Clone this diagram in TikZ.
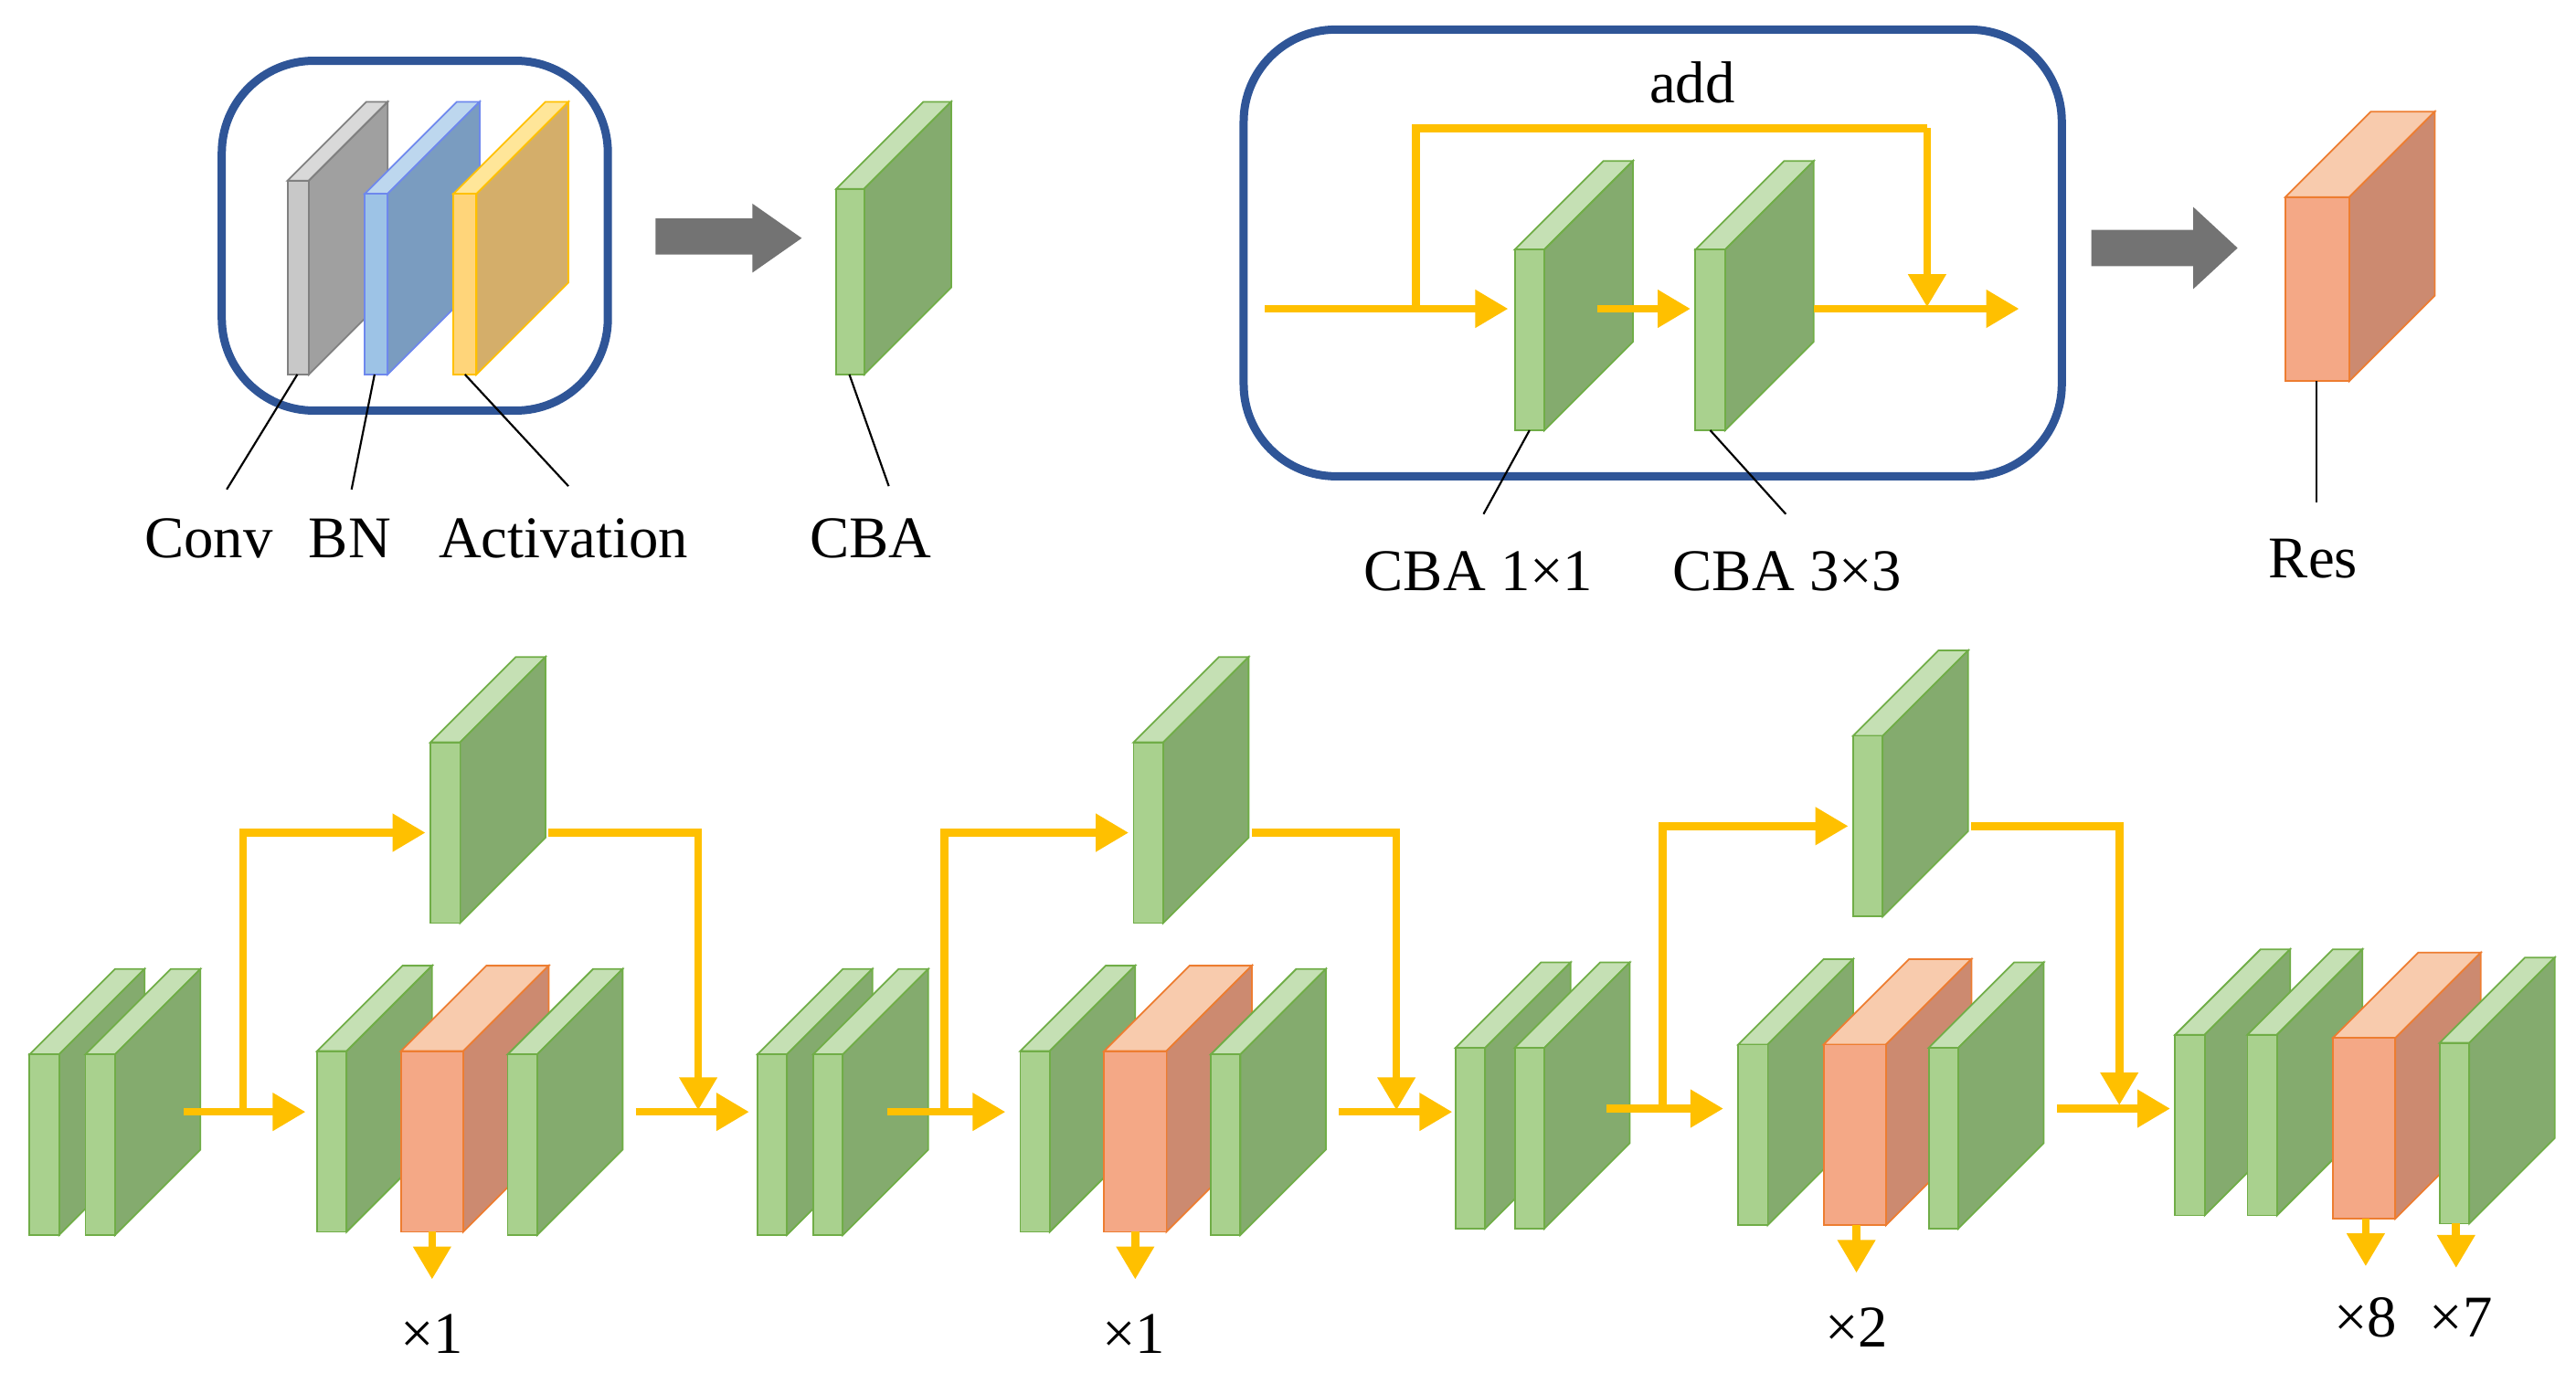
\documentclass[tikz,border=0pt]{standalone}
\usepackage{fontspec}
\setmainfont{Liberation Serif}
\usetikzlibrary{arrows.meta}
\definecolor{gF}{HTML}{A9D18E}\definecolor{gS}{HTML}{84AB6E}\definecolor{gT}{HTML}{C5E0B4}\definecolor{gE}{HTML}{70AD47}
\definecolor{oF}{HTML}{F4A886}\definecolor{oS}{HTML}{CC8A70}\definecolor{oT}{HTML}{F8CBAD}\definecolor{oE}{HTML}{ED7D31}
\definecolor{ylw}{HTML}{FFC000}\definecolor{bx}{HTML}{2F5597}
\definecolor{grF}{HTML}{C8C8C8}\definecolor{grS}{HTML}{A0A0A0}\definecolor{grT}{HTML}{D9D9D9}
\definecolor{blF}{HTML}{9DC3E6}\definecolor{blS}{HTML}{7A9CC0}\definecolor{blT}{HTML}{BDD7EE}
\definecolor{ylF}{HTML}{FFD57A}\definecolor{ylS}{HTML}{D4AE6A}\definecolor{ylT}{HTML}{FFE699}
\newcommand\slab[9]{%
\filldraw[fill=#8,draw=#9,line width=0.5pt] (#1,#2) -- ++(#5,-#5) -- ++(#3,0) -- (#1+#3,#2) -- cycle;
\filldraw[fill=#7,draw=#9,line width=0.5pt] (#1+#3,#2) -- ++(#5,-#5) -- ++(0,#4) -- (#1+#3,#2+#4) -- cycle;
\filldraw[fill=#6,draw=#9,line width=0.5pt] (#1,#2) rectangle ++(#3,#4);}
\newcommand\gs[2]{\slab{#1}{#2}{18}{110}{52}{gF}{gS}{gT}{gE}}
\newcommand\os[2]{\slab{#1}{#2}{38}{110}{52}{oF}{oS}{oT}{oE}}
\tikzset{ya/.style={draw=ylw,line width=2.4pt,-{Triangle[width=11pt,length=10pt,fill=ylw]}},
 yline/.style={draw=ylw,line width=2.4pt},
 lbl/.style={font=\fontsize{18}{20}\selectfont},
 lead/.style={black,line width=0.6pt},
 box/.style={draw=bx,line width=2.5pt,rounded corners=28pt}}
\begin{document}
\begin{tikzpicture}[x=0.5pt,y=-0.5pt]
\useasboundingbox (0,0) rectangle (1568,836);
% top-left
\draw[box] (135,37) rectangle (370,250);
\slab{175}{110}{13}{118}{48}{grF}{grS}{grT}{gray}
\slab{222}{118}{14}{110}{56}{blF}{blS}{blT}{blF!70!blue}
\slab{276}{118}{14}{110}{56}{ylF}{ylS}{ylT}{ylw}
\fill[gray!90!black] (399,133) -- (458,133) -- (458,124) -- (488,145) -- (458,166) -- (458,155) -- (399,155) -- cycle;
\slab{509}{115}{17}{113}{53}{gF}{gS}{gT}{gE}
\node[lbl] (conv) at (127,328) {Conv};
\node[lbl] (bn) at (213,328) {BN};
\node[lbl] (act) at (343,328) {Activation};
\node[lbl] (cba) at (530,328) {CBA};
\draw[lead] (181,228) -- (138,298);
\draw[lead] (228,228) -- (214,298);
\draw[lead] (283,228) -- (346,296);
\draw[lead] (517,228) -- (541,296);
% top-right
\draw[box] (757,18) rectangle (1255,290);
\slab{922}{152}{18}{110}{54}{gF}{gS}{gT}{gE}
\slab{1032}{152}{18}{110}{54}{gF}{gS}{gT}{gE}
\coordinate (in) at (770,188);
\coordinate (sp) at (862,188);
\draw[ya] (in) -- (918,188);
\draw[yline] (sp) |- (1173,78) coordinate (c1);
\draw[ya] (c1) -- (1173,187);
\draw[ya] (972,188) -- (1029,188);
\draw[ya] (1104,188) -- (1229,188);
\node[lbl] (add) at (1030,50) {add};
\node[lbl] (c11) at (900,348) {CBA 1×1};
\node[lbl] (c33) at (1088,348) {CBA 3×3};
\draw[lead] (931,262) -- (903,313);
\draw[lead] (1041,262) -- (1087,313);
\fill[gray!90!black] (1273,140) -- (1335,140) -- (1335,126) -- (1362,151) -- (1335,176) -- (1335,162) -- (1273,162) -- cycle;
\slab{1391}{120}{39}{112}{52}{oF}{oS}{oT}{oE}
\draw[lead] (1410,232) -- (1410,306);
\node[lbl] (res) at (1408,340) {Res};
% bottom group 1
\gs{18}{642}\gs{52}{642}
\gs{193}{640}\os{244}{640}\gs{309}{642}
\gs{262}{452}
\draw[ya] (112,677) -- (186,677);
\draw[yline] (148,677) |- (230,507) coordinate (t1);
\draw[ya] (t1) -- (259,507);
\draw[yline] (334,507) -| (425,560) coordinate (d1);
\draw[ya] (d1) -- (425,676);
\draw[ya] (387,677) -- (456,677);
\draw[ya] (263,750) -- (263,779);
\node[lbl] (m1) at (263,812) {×1};
% group 2
\gs{461}{642}\gs{495}{642}
\gs{621}{640}\os{672}{640}\gs{737}{642}
\gs{690}{452}
\draw[ya] (540,677) -- (612,677);
\draw[yline] (575,677) |- (650,507) coordinate (t2);
\draw[ya] (t2) -- (687,507);
\draw[yline] (762,507) -| (850,560) coordinate (d2);
\draw[ya] (d2) -- (850,676);
\draw[ya] (815,677) -- (884,677);
\draw[ya] (691,750) -- (691,779);
\node[lbl] (m2) at (690,812) {×1};
% group 3
\gs{886}{638}\gs{922}{638}
\gs{1058}{636}\os{1110}{636}\gs{1174}{638}
\gs{1128}{448}
\draw[ya] (978,675) -- (1049,675);
\draw[yline] (1012,675) |- (1090,503) coordinate (t3);
\draw[ya] (t3) -- (1125,503);
\draw[yline] (1200,503) -| (1290,560) coordinate (d3);
\draw[ya] (d3) -- (1290,673);
\draw[ya] (1252,675) -- (1321,675);
\draw[ya] (1130,746) -- (1130,775);
\node[lbl] (m3) at (1130,808) {×2};
% group 4
\gs{1324}{630}\gs{1368}{630}\os{1420}{632}\gs{1485}{635}
\draw[ya] (1440,742) -- (1440,771);
\draw[ya] (1495,745) -- (1495,772);
\node[lbl] (m8) at (1440,802) {×8};
\node[lbl] (m7) at (1498,802) {×7};
\end{tikzpicture}
\end{document}
